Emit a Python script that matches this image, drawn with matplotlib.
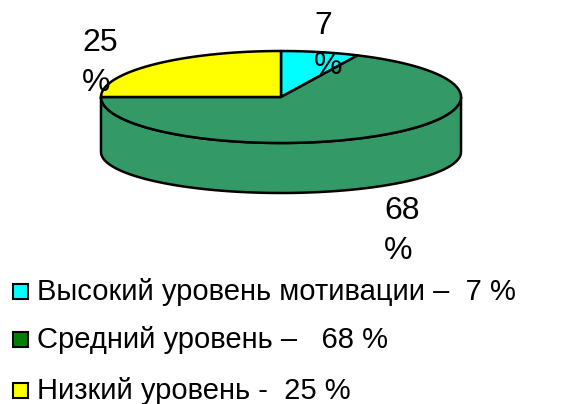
import numpy as np
import matplotlib
matplotlib.use("Agg")
import matplotlib.pyplot as plt
from matplotlib.patches import Polygon, Rectangle

plt.rcParams['font.family'] = ['Liberation Sans', 'DejaVu Sans']

# motivation levels and their shares, %
levels = ["Высокий уровень мотивации", "Средний уровень", "Низкий уровень"]
shares = [7, 68, 25]
dashes = ["–  ", "–   ", "-  "]
pie_colors = ["#00FFFF", "#339966", "#FFFF00"]
key_colors = ["#00FFFF", "#008000", "#FFFF00"]

# pie geometry in pixels
cx, cy = 281, 97
rx, ry = 180, 46
bot_cy, bot_ry = 152, 41


def top_pt(t):
    return cx + rx * np.cos(t), cy - ry * np.sin(t)


def bot_pt(t):
    return cx + rx * np.cos(t), bot_cy - bot_ry * np.sin(t)


fig = plt.figure(figsize=(5.68, 4.04), dpi=100)
ax = fig.add_axes([0, 0, 1, 1])
ax.set_xlim(0, 568)
ax.set_ylim(404, 0)
ax.axis("off")

# slice angles, clockwise from 12 o'clock
bounds = 90 - np.concatenate([[0], np.cumsum(shares)]) * 3.6
slices = [(np.radians(bounds[i + 1]), np.radians(bounds[i])) for i in range(len(shares))]

# side wall: only the front half (180..360 deg) is visible
for (a, b), col in zip(slices, pie_colors):
    for k in range(-1, 2):
        lo = max(a, np.pi + 2 * np.pi * k)
        hi = min(b, 2 * np.pi + 2 * np.pi * k)
        if hi <= lo:
            continue
        t = np.linspace(lo, hi, 120)
        xs, ys = top_pt(t)
        xb, yb = bot_pt(t[::-1])
        pts = np.column_stack([np.r_[xs, xb], np.r_[ys, yb]])
        ax.add_patch(Polygon(pts, closed=True, fc=col, ec="black", lw=1.8, joinstyle="round"))

# top face
for (a, b), col in zip(slices, pie_colors):
    t = np.linspace(a, b, 200)
    xs, ys = top_pt(t)
    pts = np.column_stack([np.r_[cx, xs], np.r_[cy, ys]])
    ax.add_patch(Polygon(pts, closed=True, fc=col, ec="black", lw=1.8, joinstyle="round"))

# value labels, left-aligned two-line text
label_pos = [(314, 46), (384, 231), (82, 63)]
for v, (lx, ly) in zip(shares, label_pos):
    ax.text(lx, ly, f"{v}\n%", ha="left", va="center", multialignment="left",
            fontsize=23, linespacing=1.4, color="black")

# legend
row_y = [291, 339, 390]
for name, v, d, col, y in zip(levels, shares, dashes, key_colors, row_y):
    ax.add_patch(Rectangle((13, y - 7.5), 15, 15, fc=col, ec="black", lw=1.5))
    ax.text(37, y + 1, f"{name} {d}{v} %", ha="left", va="center", fontsize=21, color="black")

fig.savefig("out.png", dpi=100)
